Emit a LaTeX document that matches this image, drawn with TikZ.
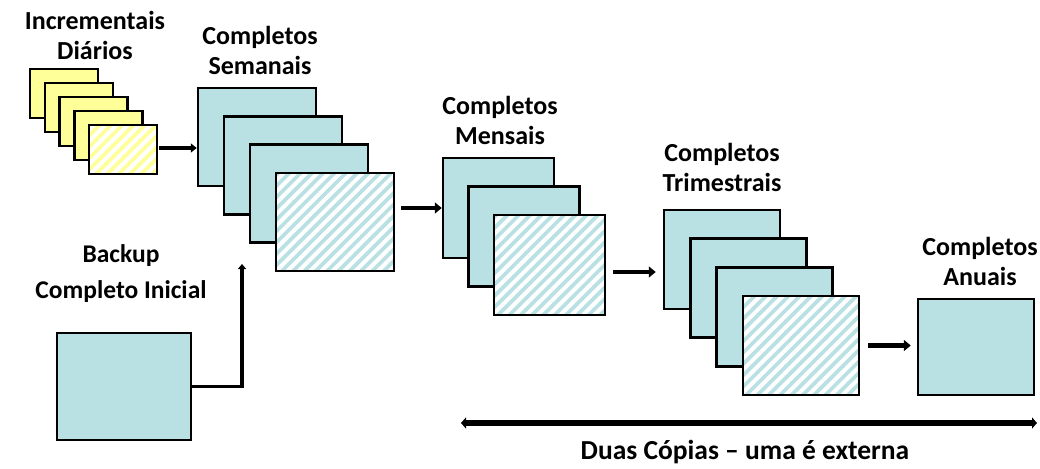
\documentclass[tikz,border=0pt]{standalone}
\usepackage{fontspec}
\setmainfont{Carlito}
\usetikzlibrary{arrows.meta,patterns.meta}
\definecolor{azul}{HTML}{B9E0E3}
\definecolor{amarelo}{HTML}{FFFF99}
\begin{document}
\begin{tikzpicture}[x=1pt,y=-1pt]
  \tikzstyle{caixa}=[draw=black, line width=2.5pt, inner sep=0pt]
  \tikzstyle{azulbox}=[caixa, fill=azul]
  \tikzstyle{amarbox}=[caixa, fill=amarelo, minimum width=68pt, minimum height=49pt]
  \tikzstyle{listra}=[pattern={Lines[angle=45, distance=8pt, line width=4pt]}, pattern color=white]
  \tikzstyle{rotulo}=[font=\bfseries\fontsize{26}{30}\selectfont, align=center, inner sep=0pt]
  \tikzstyle{seta}=[line width=4.5pt, -{Triangle[length=7pt, width=11pt]}]

  \useasboundingbox (0,0) rectangle (1040,468);

  \foreach \i in {0,...,3}
    \node[amarbox] (dia\i) at (64+14.75*\i, 93.5+14*\i) {};
  \node[amarbox, preaction={fill=amarelo}, listra] (dia4) at (123,149.5) {};

  \tikzstyle{sembox}=[azulbox, minimum width=118pt, minimum height=98pt]
  \foreach \i in {0,...,2}
    \node[sembox] (sem\i) at (257+26*\i, 137+28.3*\i) {};
  \node[sembox, preaction={fill=azul}, listra] (sem3) at (335,222) {};

  \tikzstyle{mesbox}=[azulbox, minimum width=111pt, minimum height=100pt]
  \foreach \i in {0,1}
    \node[mesbox] (mes\i) at (498.5+25.5*\i, 208+28.5*\i) {};
  \node[mesbox, preaction={fill=azul}, listra] (mes2) at (549.5,265) {};

  \tikzstyle{tribox}=[azulbox, minimum width=116pt, minimum height=99pt]
  \foreach \i in {0,...,2}
    \node[tribox] (tri\i) at (722+26.3*\i, 259.5+28.7*\i) {};
  \node[tribox, preaction={fill=azul}, listra] (tri3) at (801,345.5) {};

  \node[azulbox, minimum width=116pt, minimum height=96pt] (anual) at (976,347) {};
  \node[azulbox, minimum width=134pt, minimum height=107pt] (inicial) at (124,386.5) {};

  \node[rotulo] (ldia) at (95,35) {Incrementais\\Diários};
  \node[rotulo] (lsem) at (260,50) {Completos\\Semanais};
  \node[rotulo] (lmes) at (500,120) {Completos\\Mensais};
  \node[rotulo] (ltri) at (722,167.5) {Completos\\Trimestrais};
  \node[rotulo] (lanual) at (980,261.5) {Completos\\Anuais};
  \node[rotulo, font=\bfseries\fontsize{25.5}{36}\selectfont] (linicial) at (121,273.5) {Backup\\Completo Inicial};

  \draw[seta, line width=3.5pt, -{Triangle[length=6pt, width=9pt]}] ([yshift=1.5pt]dia4.east) -- ([yshift=1.5pt]dia4.east -| sem0.west);
  \draw[seta, shorten <=6pt] (sem3.east |- mes0.west) -- (mes0.west);
  \draw[seta, shorten <=7pt, shorten >=7pt] ([yshift=-7pt]mes2.east) -- ([yshift=-7pt]mes2.east -| tri0.west);
  \draw[seta, shorten <=8pt, shorten >=6pt] (tri3.east) -- (tri3.east -| anual.west);

  \coordinate (chegada) at (242,264);
  \draw[line width=3.5pt, -{Triangle[length=5pt, width=8pt]}] (inicial.east) -| (chegada);

  \coordinate (ini) at (461,423);
  \coordinate (fim) at (1037,423);
  \draw[line width=6pt, {Triangle[length=5pt, width=11pt]}-{Triangle[length=5pt, width=11pt]}] (ini) -- (fim);
  \node[rotulo, font=\bfseries\fontsize{27.5}{30}\selectfont] (copias) at (745,452) {Duas Cópias – uma é externa};
\end{tikzpicture}
\end{document}
